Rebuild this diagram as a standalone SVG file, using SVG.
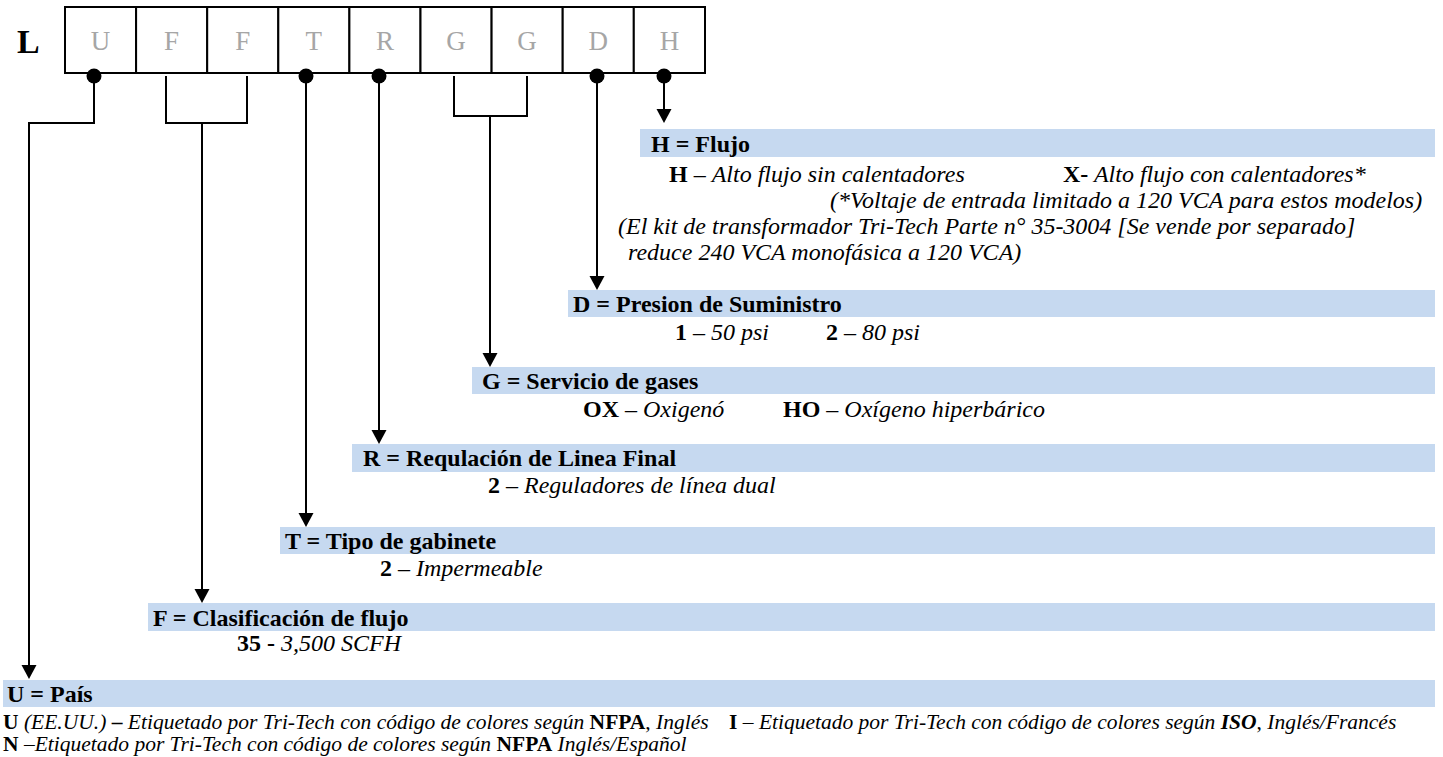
<svg xmlns="http://www.w3.org/2000/svg" xmlns:xlink="http://www.w3.org/1999/xlink" width="1443" height="757" viewBox="0 0 1443 757">
  <style>
    text { font-family: "Liberation Serif", "Times New Roman", serif; fill: #000; }
    .code { font-size: 27px; fill: #a6a6a6; text-anchor: middle; }
    .lead { font-size: 34px; font-weight: bold; }
    .cell { fill: #fff; stroke: #000; stroke-width: 2; }
    .bar { fill: #c6d9f0; }
    .title { font-size: 24px; font-weight: bold; }
    .item { font-size: 24px; }
    .small { font-size: 21.5px; }
    .b { font-weight: bold; font-style: normal; }
    .i { font-style: italic; font-weight: normal; }
    .bi { font-style: italic; font-weight: bold; }
    .wire { fill: none; stroke: #000; stroke-width: 2; }
    .dot { fill: #000; }
  </style>
  <defs>
    <!-- downward arrowhead, tip at the origin -->
    <path id="ah" d="M-7.5,-14 L7.5,-14 L0,0 Z" fill="#000"/>
  </defs>

  <rect width="1443" height="757" fill="#fff"/>

  <!-- model code: leading L and nine cells -->
  <g id="code">
    <text class="lead" x="17" y="53">L</text>
    <g id="cell-U"><rect class="cell" x="65" y="7" width="71.1" height="66"/><text class="code" x="100.5" y="50">U</text></g>
    <g id="cell-F1"><rect class="cell" x="136.1" y="7" width="71.1" height="66"/><text class="code" x="171.6" y="50">F</text></g>
    <g id="cell-F2"><rect class="cell" x="207.2" y="7" width="71.1" height="66"/><text class="code" x="242.7" y="50">F</text></g>
    <g id="cell-T"><rect class="cell" x="278.3" y="7" width="71.1" height="66"/><text class="code" x="313.8" y="50">T</text></g>
    <g id="cell-R"><rect class="cell" x="349.4" y="7" width="71.1" height="66"/><text class="code" x="384.9" y="50">R</text></g>
    <g id="cell-G1"><rect class="cell" x="420.5" y="7" width="71.1" height="66"/><text class="code" x="456" y="50">G</text></g>
    <g id="cell-G2"><rect class="cell" x="491.6" y="7" width="71.1" height="66"/><text class="code" x="527.1" y="50">G</text></g>
    <g id="cell-D"><rect class="cell" x="562.7" y="7" width="71.1" height="66"/><text class="code" x="598.2" y="50">D</text></g>
    <g id="cell-H"><rect class="cell" x="633.8" y="7" width="71.2" height="66"/><text class="code" x="669.4" y="50">H</text></g>
  </g>

  <!-- leader lines from each cell to its legend bar -->
  <g id="connectors">
    <!-- U -->
    <polyline class="wire" points="94,76 94,123 29,123 29,668"/>
    <circle class="dot" cx="94" cy="76" r="7.5"/>
    <use xlink:href="#ah" x="29" y="679"/>
    <!-- F F bracket -->
    <polyline class="wire" points="166,76 166,123 247,123 247,76"/>
    <line class="wire" x1="202" y1="123" x2="202" y2="592"/>
    <use xlink:href="#ah" x="202" y="603"/>
    <!-- T -->
    <line class="wire" x1="306" y1="76" x2="306" y2="516"/>
    <circle class="dot" cx="306" cy="76" r="7.5"/>
    <use xlink:href="#ah" x="306" y="527"/>
    <!-- R -->
    <line class="wire" x1="379" y1="76" x2="379" y2="433"/>
    <circle class="dot" cx="379" cy="76" r="7.5"/>
    <use xlink:href="#ah" x="379" y="444"/>
    <!-- G G bracket -->
    <polyline class="wire" points="454,76 454,116 527,116 527,76"/>
    <line class="wire" x1="490" y1="116" x2="490" y2="356"/>
    <use xlink:href="#ah" x="490" y="367"/>
    <!-- D -->
    <line class="wire" x1="597" y1="76" x2="597" y2="279"/>
    <circle class="dot" cx="597" cy="76" r="7.5"/>
    <use xlink:href="#ah" x="597" y="290"/>
    <!-- H -->
    <line class="wire" x1="664" y1="76" x2="664" y2="112"/>
    <circle class="dot" cx="664" cy="76" r="7.5"/>
    <use xlink:href="#ah" x="664" y="123"/>
  </g>

  <!-- H: flow -->
  <g id="legend-H">
    <rect class="bar" x="640" y="129" width="795" height="28"/>
    <text class="title" x="651" y="152">H = Flujo</text>
    <text class="item" x="669" y="182"><tspan class="b">H</tspan> – <tspan class="i">Alto flujo sin calentadores</tspan></text>
    <text class="item" x="1063" y="182"><tspan class="b">X-</tspan><tspan class="i"> Alto flujo con calentadores*</tspan></text>
    <text class="item i" x="830" y="208">(*Voltaje de entrada limitado a 120 VCA para estos modelos)</text>
    <text class="item i" x="618" y="234">(El kit de transformador Tri-Tech Parte n° 35-3004 [Se vende por separado]</text>
    <text class="item i" x="628" y="260">reduce 240 VCA monofásica a 120 VCA)</text>
  </g>

  <!-- D: supply pressure -->
  <g id="legend-D">
    <rect class="bar" x="568" y="290" width="867" height="27"/>
    <text class="title" x="573" y="312">D = Presion de Suministro</text>
    <text class="item" x="675" y="340"><tspan class="b">1</tspan> – <tspan class="i">50 psi</tspan></text>
    <text class="item" x="826" y="340"><tspan class="b">2</tspan> – <tspan class="i">80 psi</tspan></text>
  </g>

  <!-- G: gas service -->
  <g id="legend-G">
    <rect class="bar" x="472" y="367" width="963" height="27"/>
    <text class="title" x="482" y="389">G = Servicio de gases</text>
    <text class="item" x="583" y="417"><tspan class="b">OX</tspan> – <tspan class="i">Oxigenó</tspan></text>
    <text class="item" x="783" y="417"><tspan class="b">HO</tspan> – <tspan class="i">Oxígeno hiperbárico</tspan></text>
  </g>

  <!-- R: final line regulation -->
  <g id="legend-R">
    <rect class="bar" x="352" y="444" width="1083" height="28"/>
    <text class="title" x="363" y="466">R = Requlación de Linea Final</text>
    <text class="item" x="488" y="493"><tspan class="b">2</tspan> – <tspan class="i">Reguladores de línea dual</tspan></text>
  </g>

  <!-- T: cabinet type -->
  <g id="legend-T">
    <rect class="bar" x="280" y="527" width="1155" height="27"/>
    <text class="title" x="285" y="549">T = Tipo de gabinete</text>
    <text class="item" x="380" y="576"><tspan class="b">2</tspan> – <tspan class="i">Impermeable</tspan></text>
  </g>

  <!-- F: flow rating -->
  <g id="legend-F">
    <rect class="bar" x="148" y="603" width="1287" height="28"/>
    <text class="title" x="153" y="626">F = Clasificación de flujo</text>
    <text class="item" x="237" y="651"><tspan class="b">35 -</tspan> <tspan class="i">3,500 SCFH</tspan></text>
  </g>

  <!-- U: country -->
  <g id="legend-U">
    <rect class="bar" x="3" y="680" width="1432" height="27"/>
    <text class="title" x="7" y="702">U = País</text>
    <text class="small" x="3" y="729"><tspan class="b">U</tspan><tspan class="i"> (EE.UU.) </tspan><tspan class="b">–</tspan><tspan class="i"> Etiquetado por Tri-Tech con código de colores según </tspan><tspan class="b">NFPA</tspan>, <tspan class="i">Inglés</tspan></text>
    <text class="small" x="729" y="729"><tspan class="b">I</tspan> – <tspan class="i">Etiquetado por Tri-Tech con código de colores según </tspan><tspan class="bi">ISO</tspan>, <tspan class="i">Inglés/Francés</tspan></text>
    <text class="small" x="3" y="751"><tspan class="b">N</tspan><tspan class="i"> –Etiquetado por Tri-Tech con código de colores según </tspan><tspan class="b">NFPA</tspan><tspan class="i"> Inglés/Español</tspan></text>
  </g>
</svg>
